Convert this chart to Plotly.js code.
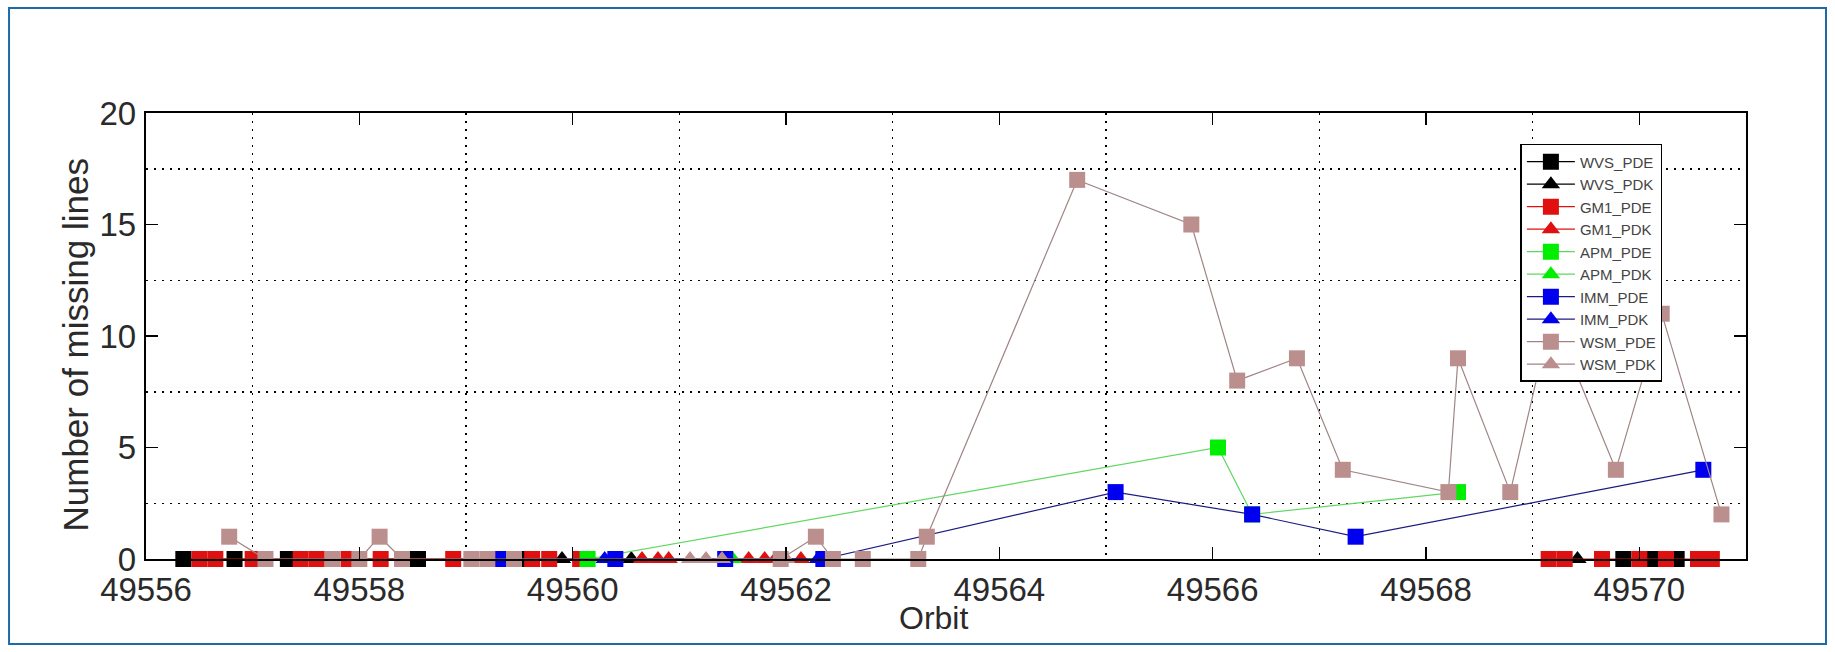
<!DOCTYPE html>
<html>
<head>
<meta charset="utf-8">
<script src="https://cdn.plot.ly/plotly-3.0.1.min.js"></script>
<style>
html,body{margin:0;padding:0;background:#fff;}
#chart{width:1835px;height:652px;}
</style>
</head>
<body>
<div id="chart"></div>
<script>
// ---- axis ticks / grid ----
const xTickVals = [49556, 49558, 49560, 49562, 49564, 49566, 49568, 49570];
const xTickText = ["49556", "49558", "49560", "49562", "49564", "49566", "49568", "49570"];
const xGridVals = [49557, 49559, 49561, 49563, 49565, 49567, 49569];
const yTickVals = [0, 5, 10, 15, 20];
const yTickText = ["0", "5", "10", "15", "20"];
const yGridVals = [2.5, 7.5, 12.5, 17.5];
const xTitle = "Orbit";
const yTitle = "Number of missing lines";

// ---- series (null = break in the line between orbit clusters) ----
const wvsPdeX = [49556.35, 49556.83, 49557.33, 49558.55, 49559.5, null, 49569.85, 49570.12, 49570.35];
const wvsPdeY = [0, 0, 0, 0, 0, null, 0, 0, 0];
const wvsPdkX = [49559.9, 49560.55, null, 49569.42];
const wvsPdkY = [0, 0, null, 0];
const gm1PdeX = [49556.5, 49556.65, 49557.0, 49557.45, 49557.6, 49557.9, 49558.2, 49558.88, 49559.62, 49559.78, 49560.07, null, 49569.15, 49569.3, 49569.65, 49570.0, 49570.25, 49570.55, 49570.68];
const gm1PdeY = [0, 0, 0, 0, 0, 0, 0, 0, 0, 0, 0, null, 0, 0, 0, 0, 0, 0, 0];
const gm1PdkX = [49560.65, 49560.8, 49560.9, 49561.65, 49561.8, 49561.9, 49562.14];
const gm1PdkY = [0, 0, 0, 0, 0, 0, 0];
const apmPdeX = [49560.14, 49566.05, 49566.37, 49568.3];
const apmPdeY = [0, 5, 2, 3];
const apmPdkX = [49561.5];
const apmPdkY = [0];
const immPdeX = [49559.33, 49560.4, 49561.43, 49562.35, 49565.09, 49566.37, 49567.34, 49570.6];
const immPdeY = [0, 0, 0, 0, 3, 2, 1, 4];
const immPdkX = [49560.3, 49562.3];
const immPdkY = [0, 0];
const wsmPdeX = [49556.78, 49557.12, 49557.75, 49558.0, 49558.19, 49558.4, 49559.05, 49559.2, 49559.45, 49561.95, 49562.28, 49562.44, 49562.72, 49563.24, 49563.32, 49564.73, 49565.8, 49566.23, 49566.79, 49567.22, 49568.21, 49568.3, 49568.79, 49569.18, 49569.78, 49570.21, 49570.77];
const wsmPdeY = [1, 0, 0, 0, 1, 0, 0, 0, 0, 0, 1, 0, 0, 0, 1, 17, 15, 8, 9, 4, 3, 9, 3, 11, 4, 11, 2];
const wsmPdkX = [49561.1, 49561.25, 49561.4, 49562.0];
const wsmPdkY = [0, 0, 0, 0];

function tr(name, x, y, symbol, mcolor, lcolor) {
  return {
    type: 'scatter', mode: 'lines+markers', name: name, x: x, y: y,
    cliponaxis: false, connectgaps: false,
    line: {color: lcolor, width: 1.2},
    marker: {symbol: symbol, size: 16, color: mcolor, line: {width: 0}}
  };
}

const data = [
  tr('WVS_PDE', wvsPdeX, wvsPdeY, 'square', '#000000', '#000000'),
  tr('WVS_PDK', wvsPdkX, wvsPdkY, 'triangle-up', '#000000', '#000000'),
  tr('GM1_PDE', gm1PdeX, gm1PdeY, 'square', '#e01010', '#e01010'),
  tr('GM1_PDK', gm1PdkX, gm1PdkY, 'triangle-up', '#e01010', '#e01010'),
  tr('APM_PDE', apmPdeX, apmPdeY, 'square', '#00ee00', '#60d860'),
  tr('APM_PDK', apmPdkX, apmPdkY, 'triangle-up', '#00ee00', '#60d860'),
  tr('IMM_PDE', immPdeX, immPdeY, 'square', '#0000ee', '#1c1c80'),
  tr('IMM_PDK', immPdkX, immPdkY, 'triangle-up', '#0000ee', '#1c1c80'),
  tr('WSM_PDE', wsmPdeX, wsmPdeY, 'square', '#bc8f8f', '#a08585'),
  tr('WSM_PDK', wsmPdkX, wsmPdkY, 'triangle-up', '#bc8f8f', '#a08585')
];

const gridMinor = (vals) => ({
  tickmode: 'array', tickvals: vals, showgrid: true,
  gridcolor: '#000', gridwidth: 1.5, griddash: '2px,6px', ticks: ''
});

const layout = {
  width: 1835, height: 652,
  margin: {l: 146, r: 89, t: 113, b: 93, pad: 0},
  paper_bgcolor: '#ffffff', plot_bgcolor: '#ffffff',
  font: {family: 'Liberation Sans, Arial, sans-serif', color: '#222'},
  showlegend: true,
  xaxis: {
    range: [49556, 49571], autorange: false,
    tickmode: 'array', tickvals: xTickVals, ticktext: xTickText,
    ticks: 'inside', ticklen: 12, tickwidth: 1.5, tickcolor: '#000',
    showline: true, linecolor: '#000', linewidth: 2.2, mirror: 'allticks',
    showgrid: false, zeroline: false,
    tickfont: {size: 33, color: '#2a2a2a'},
    minor: gridMinor(xGridVals),
    automargin: false
  },
  yaxis: {
    range: [0, 20], autorange: false,
    tickmode: 'array', tickvals: yTickVals, ticktext: yTickText,
    ticks: 'inside', ticklen: 12, tickwidth: 1.5, tickcolor: '#000',
    showline: true, linecolor: '#000', linewidth: 2.2, mirror: 'allticks',
    showgrid: false, zeroline: false,
    tickfont: {size: 33, color: '#2a2a2a'},
    ticklabelstandoff: 1,
    minor: gridMinor(yGridVals),
    automargin: false
  },
  annotations: [
    {text: xTitle, xref: 'paper', yref: 'paper', x: 0.492, y: -0.132,
     xanchor: 'center', yanchor: 'middle', showarrow: false,
     font: {size: 32, color: '#2a2a2a'}},
    {text: yTitle, xref: 'paper', yref: 'paper', x: -0.044, y: 0.48,
     xanchor: 'center', yanchor: 'middle', textangle: -90, showarrow: false,
     font: {size: 35, color: '#2a2a2a'}}
  ],
  legend: {
    x: 0.859, y: 0.9306, xanchor: 'left', yanchor: 'top',
    bgcolor: '#ffffff', bordercolor: '#000', borderwidth: 1.5,
    font: {size: 15, color: '#444'}, itemwidth: 48, tracegroupgap: 0
  },
  shapes: [{
    type: 'rect', xref: 'paper', yref: 'paper',
    x0: -0.0856, x1: 1.05, y0: -0.1906, y1: 1.2354,
    line: {color: '#1d6aa8', width: 2}, fillcolor: 'rgba(0,0,0,0)', layer: 'below'
  }]
};

Plotly.newPlot('chart', data, layout, {displayModeBar: false, staticPlot: true});
</script>
</body>
</html>
